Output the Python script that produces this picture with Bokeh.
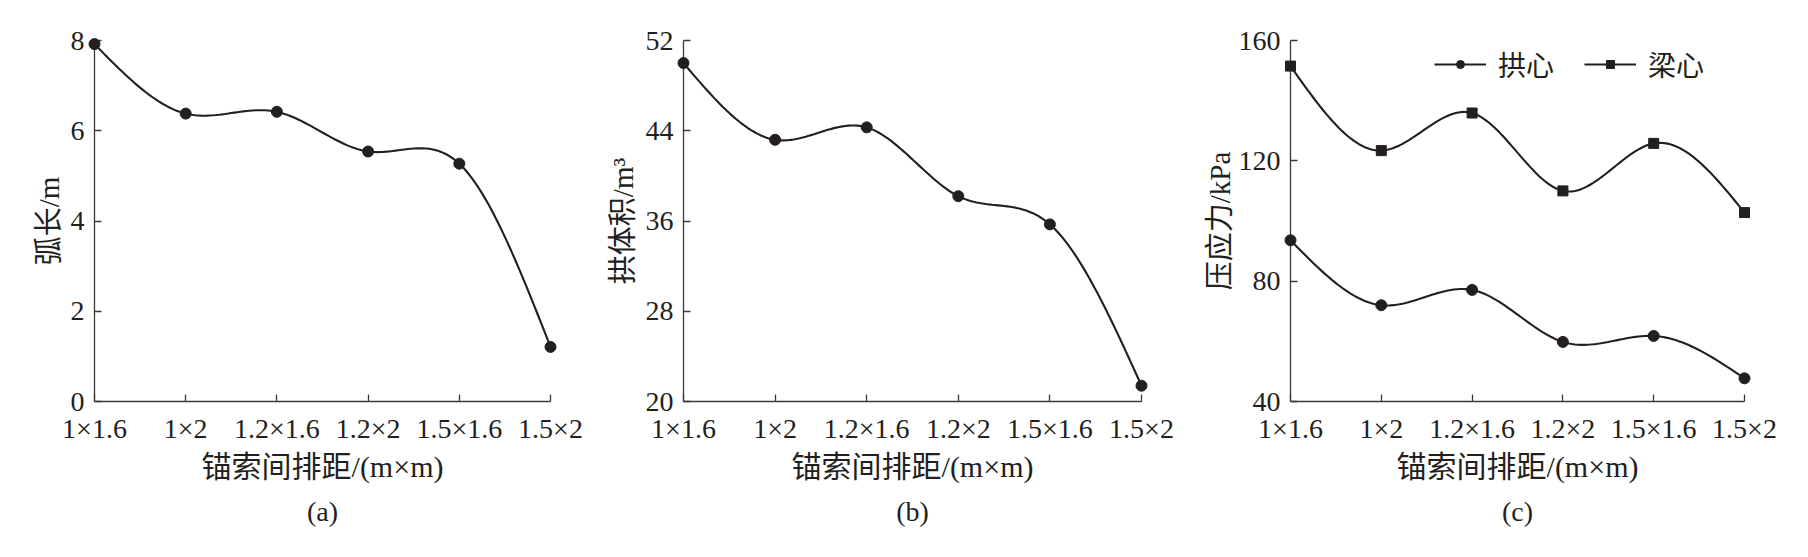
import numpy as np
from bokeh.plotting import figure
from bokeh.layouts import row
from bokeh.models import Range1d, FixedTicker, Title, Legend, LegendItem
from bokeh.embed import file_html
from bokeh.resources import INLINE

categories = ["1×1.6", "1×2", "1.2×1.6", "1.2×2", "1.5×1.6", "1.5×2"]
arc_length = [7.92, 6.38, 6.42, 5.54, 5.27, 1.21]
arch_volume = [50.0, 43.2, 44.3, 38.2, 35.7, 21.4]
stress_arch = [93.6, 72.0, 77.1, 59.8, 61.8, 47.7]
stress_beam = [151.5, 123.4, 135.9, 110.0, 125.8, 102.8]

INK = "#231f20"
AXC = "#3a3a3a"
SERIF = "Liberation Serif, Noto Sans CJK SC"
H = 549
TOP = 40
BOTTOM = 401


def natural_spline(ys, n=30):
    y = np.asarray(ys, dtype=float)
    k = len(y)
    A = np.zeros((k, k))
    b = np.zeros(k)
    A[0, 0] = 1
    A[-1, -1] = 1
    for i in range(1, k - 1):
        A[i, i - 1] = 1
        A[i, i] = 4
        A[i, i + 1] = 1
        b[i] = 6 * (y[i + 1] - 2 * y[i] + y[i - 1])
    M = np.linalg.solve(A, b)
    xs, out = [], []
    for i in range(k - 1):
        t = np.linspace(0, 1, n, endpoint=(i == k - 2))
        a = 1 - t
        yy = a * y[i] + t * y[i + 1] + ((a ** 3 - a) * M[i] + (t ** 3 - t) * M[i + 1]) / 6
        xs.extend(list(i + t))
        out.extend(list(yy))
    return xs, out


def make_panel(width, left, right, yr, yticks, ylabel, tag, ylab_standoff):
    p = figure(width=width, height=H, x_range=Range1d(0, 5), y_range=Range1d(*yr),
               output_backend="svg", toolbar_location=None,
               min_border_left=left, min_border_right=right,
               min_border_top=TOP, min_border_bottom=H - BOTTOM)
    p.title.visible = False
    p.outline_line_color = None
    p.xgrid.visible = False
    p.ygrid.visible = False
    p.background_fill_color = "white"
    p.border_fill_color = "white"

    xa = p.xaxis[0]
    xa.ticker = FixedTicker(ticks=list(range(len(categories))))
    xa.major_label_overrides = {i: c for i, c in enumerate(categories)}
    xa.major_tick_in = 7
    xa.major_tick_out = 0
    xa.minor_tick_line_color = None
    xa.axis_line_color = AXC
    xa.axis_line_width = 1.3
    xa.major_tick_line_color = AXC
    xa.major_tick_line_width = 1.3
    xa.major_label_text_font = SERIF
    xa.major_label_text_font_size = "28px"
    xa.major_label_text_color = INK
    xa.major_label_standoff = 11
    xa.axis_label = "锚索间排距/(m×m)"
    xa.axis_label_text_font = SERIF
    xa.axis_label_text_font_size = "30px"
    xa.axis_label_text_font_style = "normal"
    xa.axis_label_text_color = INK
    xa.axis_label_standoff = 3

    ya = p.yaxis[0]
    ya.ticker = FixedTicker(ticks=yticks)
    ya.major_tick_in = 7
    ya.major_tick_out = 0
    ya.minor_tick_line_color = None
    ya.axis_line_color = AXC
    ya.axis_line_width = 1.3
    ya.major_tick_line_color = AXC
    ya.major_tick_line_width = 1.3
    ya.major_label_text_font = SERIF
    ya.major_label_text_font_size = "28px"
    ya.major_label_text_color = INK
    ya.major_label_standoff = 10
    ya.axis_label = ylabel
    ya.axis_label_text_font = SERIF
    ya.axis_label_text_font_size = "29px"
    ya.axis_label_text_font_style = "normal"
    ya.axis_label_text_color = INK
    ya.axis_label_standoff = ylab_standoff

    t = Title(text=tag, align="center", text_font=SERIF, text_font_size="28px",
              text_font_style="normal", text_color=INK, standoff=17)
    p.add_layout(t, "below")
    return p


def add_series(p, values, marker, size):
    xs, ys = natural_spline(values)
    lr = p.line(xs, ys, line_color=INK, line_width=2.1)
    lr.level = "overlay"
    sr = p.scatter(list(range(len(values))), values, marker=marker, size=size,
                   fill_color=INK, line_color=INK)
    sr.level = "overlay"
    return lr, sr


pa = make_panel(600, 94, 50, (0, 8), [0, 2, 4, 6, 8], "弧长/m", "(a)", 3)
add_series(pa, arc_length, "circle", 11)

pb = make_panel(600, 83, 59, (20, 52), [20, 28, 36, 44, 52], "拱体积/m³", "(b)", 4)
add_series(pb, arch_volume, "circle", 11)

pc = make_panel(600, 85, 56, (40, 160), [40, 80, 120, 160], "压应力/kPa", "(c)", 0)
l1, s1 = add_series(pc, stress_arch, "circle", 11)
l2, s2 = add_series(pc, stress_beam, "square", 10)
legend = Legend(items=[LegendItem(label="拱心", renderers=[l1, s1]),
                       LegendItem(label="梁心", renderers=[l2, s2])],
                orientation="horizontal", location=(144, 317), padding=0, margin=0,
                spacing=30, glyph_width=52, glyph_height=20, label_standoff=12,
                border_line_color=None, background_fill_alpha=0,
                label_text_font="Noto Sans CJK SC", label_text_font_size="28px",
                label_text_color=INK)
pc.add_layout(legend)

layout = row(pa, pb, pc)
open("out.html", "w").write(file_html(layout, INLINE))
